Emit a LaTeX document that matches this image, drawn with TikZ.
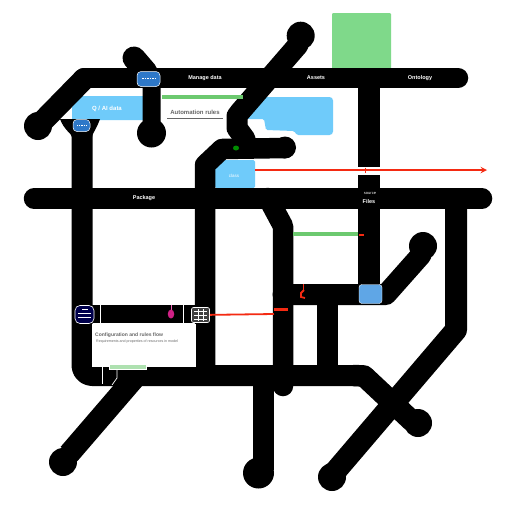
\documentclass[tikz,border=0pt]{standalone}
\usepackage{fontspec}
\setmainfont{Liberation Sans}
\usetikzlibrary{shapes.geometric}
\definecolor{skyb}{HTML}{6FCBFA}
\definecolor{leaf}{HTML}{7FD98A}
\definecolor{stripe}{HTML}{6CC96F}
\definecolor{redl}{HTML}{F42A12}
\definecolor{iconb}{HTML}{2E78C8}
\definecolor{tile}{HTML}{5FA6E6}
\tikzset{
  pipe/.style={line width=20.5pt,black,line cap=round,line join=round},
  flatpipe/.style={pipe,line cap=butt},
  skybox/.style={fill=skyb,draw=none,rounded corners=1.5pt},
  stripeline/.style={stripe,line width=4pt},
  redline/.style={redl,line width=1.8pt},
  seam/.style={white,line width=.7pt},
  wlabel/.style={text=white,font=\fontsize{5.5}{5.5}\selectfont\bfseries,inner sep=0pt},
  glabel/.style={text=black!60,font=\fontsize{5}{5}\selectfont\bfseries,inner sep=0pt},
  badge/.style={fill=iconb,draw=white,line width=.5pt,rounded corners=4pt,inner sep=0pt},
  darkbadge/.style={fill=black!70!blue,draw=white,line width=.6pt,rounded corners=5pt,inner sep=0pt}
}
\begin{document}
\begin{tikzpicture}[x=1pt,y=-1pt]
\useasboundingbox[fill=white] (0,0) rectangle (512,512);
% green block and blue boxes under the pipes
\node[fill=leaf,inner sep=0pt,rounded corners=1pt,minimum width=59pt,minimum height=56pt] (gblock) at (361.5,41) {};
\fill[skybox] (72,105) -- (80,96) -- (146,96) -- (146,120) -- (72,120) -- cycle;
\fill[skybox] (265,97) -- (331,97) -- (333,99) -- (333,133) -- (331,135) -- (297,135) -- (294,131) -- (266,130) -- (264,119) -- (244,119) -- cycle;
\fill[skybox] (222,160) -- (255,160) -- (255,188) -- (215,188) -- (215,168) -- cycle;
% pipes
\draw[pipe,line width=22pt] (38,126) -- (84,79);
\draw[pipe] (84,78) -- (458,78);
\draw[pipe] (34,198.5) -- (482,198.5);
\draw[flatpipe,line width=22pt] (456,198.5) -- (456,330) -- (334,473);
\draw[flatpipe,rounded corners=10pt,line width=21pt] (82,130) -- (82,375.5) -- (364,375.5);
\draw[pipe,line width=21.5pt] (354,375.5) -- (364,376) -- (412,421);
\draw[pipe,line width=23pt] (134,58) -- (146,72);
\draw[pipe,line width=18pt] (147,72) -- (151.5,85) -- (151.5,133);
\draw[pipe,line width=21pt] (298,45) -- (240,112) -- (237,116) -- (237,128) -- (245,139);
\draw[pipe] (285,148) -- (222,149) -- (205,165) -- (205,370);
\draw[pipe] (268,198) -- (283,226) -- (283,386);
\draw[flatpipe,line width=22pt] (369,78) -- (369,294);
\draw[pipe,line width=21pt] (283,294.5) -- (386,294.5) -- (421,255);
\draw[flatpipe,line width=21pt] (327.5,294) -- (327.5,370);
\draw[flatpipe,line width=22pt] (137,375) -- (69,454);
\draw[flatpipe,line width=21pt] (263.5,375) -- (263.5,470);
\draw[flatpipe,line width=18pt] (90,314) -- (200,314);
% swollen ends
\fill[black] (38,126) circle (14);
\fill[black] (151.5,133) circle (14.5);
\fill[black] (300.7,35.7) circle (14);
\fill[black] (423,246) circle (14);
\fill[black] (285,147.5) circle (11);
\fill[black] (63,462) circle (14);
\fill[black] (258.5,473) circle (15.5);
\fill[black] (332,477) circle (14);
\fill[black] (418,423) circle (14);
\fill[black] (60,119) .. controls (64,130) and (72,134) .. (72,137) -- (92,137) .. controls (92,134) and (96,130) .. (100,119) -- cycle;
% white panel and seams
\fill[white] (92,324) rectangle (196,367);
\fill[white] (358,167) rectangle (380,175);
\draw[seam] (100.5,305) -- (100.5,323);
\draw[seam] (183,305) -- (183,323);
\draw[seam] (102,367) -- (102,384);
\draw[seam] (117,367) -- (117,378) -- (112,385);
% stripes
\draw[stripeline] (162,97) -- (243,97);
\draw[stripeline] (293,234) -- (358,234);
\node[fill=white,inner sep=0pt,minimum width=38pt,minimum height=6pt] (tagbase) at (128,367) {};
\node[fill=stripe!55,inner sep=0pt,minimum width=36pt,minimum height=3.5pt] (tag) at (128,367) {};
% red lines
\coordinate (redA) at (255,170);
\coordinate (redB) at (487,170);
\draw[redline,-stealth] (redA) -- (redB);
\draw[redl,line width=.8pt] (365,167.5) -- (365,173);
\node[darkbadge,minimum width=19pt,minimum height=18pt] (iconC) at (84.5,314.5) {};
\draw[white,line width=.8pt] (78,313) -- (91,313) (78,317) -- (91,317) (82,309) -- (88,309);
\node[darkbadge,fill=black!75,minimum width=18pt,minimum height=15pt,rounded corners=2pt] (iconD) at (200.5,315) {};
\draw[white,line width=.5pt] (194,311) -- (207,311) (194,315) -- (207,315) (194,319) -- (207,319) (198,309) -- (198,321) (203,309) -- (203,321);
\draw[redline] (iconD) -- (274,314);
\draw[redl,line width=3pt] (274,309.5) -- (288,309.5);
\draw[redl,line width=1pt] (303,284) -- (303,291);
\draw[redl,line width=1.8pt] (304,290) -- (301,293) -- (301,297) -- (305,298);
\draw[redl,line width=1.6pt] (359,235) -- (364,235);
% icons
\node[badge,minimum width=23pt,minimum height=15pt] (iconA) at (148.5,79) {};
\draw[white,line width=1pt,dash pattern=on 1.5pt off 1pt] (142,78) -- (155,78);
\node[badge,minimum width=17pt,minimum height=12pt] (iconB) at (81.5,125.5) {};
\draw[white,line width=.7pt,dash pattern=on 1.2pt off 1pt] (77,125) -- (86,125);
\node[fill=tile,draw=white,line width=.4pt,rounded corners=3pt,minimum width=23pt,minimum height=19pt,inner sep=0pt] (tileA) at (370.5,294) {};
\node[fill=green!55!black,ellipse,inner sep=0pt,minimum width=6pt,minimum height=5pt] (dotG) at (236,148) {};
\draw[magenta!60!white,line width=.7pt] (171,305) -- (171,310);
\node[fill=magenta!85!black,ellipse,inner sep=0pt,minimum width=6.5pt,minimum height=9pt] (dotM) at (171,314) {};
% labels
\node[wlabel] (t1) at (205,78) {Manage data};
\node[wlabel] (t2) at (316,78) {Assets};
\node[wlabel] (t3) at (420,78) {Ontology};
\node[wlabel] (t4) at (144,198) {Package};
\node[wlabel,font=\fontsize{4}{4}\selectfont] (t5) at (370,193) {source};
\node[wlabel] (t6) at (369,202) {Files};
\node[wlabel,font=\fontsize{4.5}{4.5}\selectfont] (t7) at (234,176) {class};
\node[wlabel,font=\fontsize{6}{6}\selectfont\bfseries] (t8) at (107,109) {Q / AI data};
\node[glabel,font=\fontsize{6}{6}\selectfont\bfseries] (t9) at (195,112) {Automation rules};
\draw[black!60,line width=.8pt] (167,118.5) -- (223,118.5);
\node[glabel,anchor=west] (t10) at (95,335) {Configuration and rules flow};
\node[glabel,anchor=west,font=\fontsize{3.6}{3.6}\selectfont] (t11) at (96,342) {Requirements and properties of resources in model};
\end{tikzpicture}
\end{document}
